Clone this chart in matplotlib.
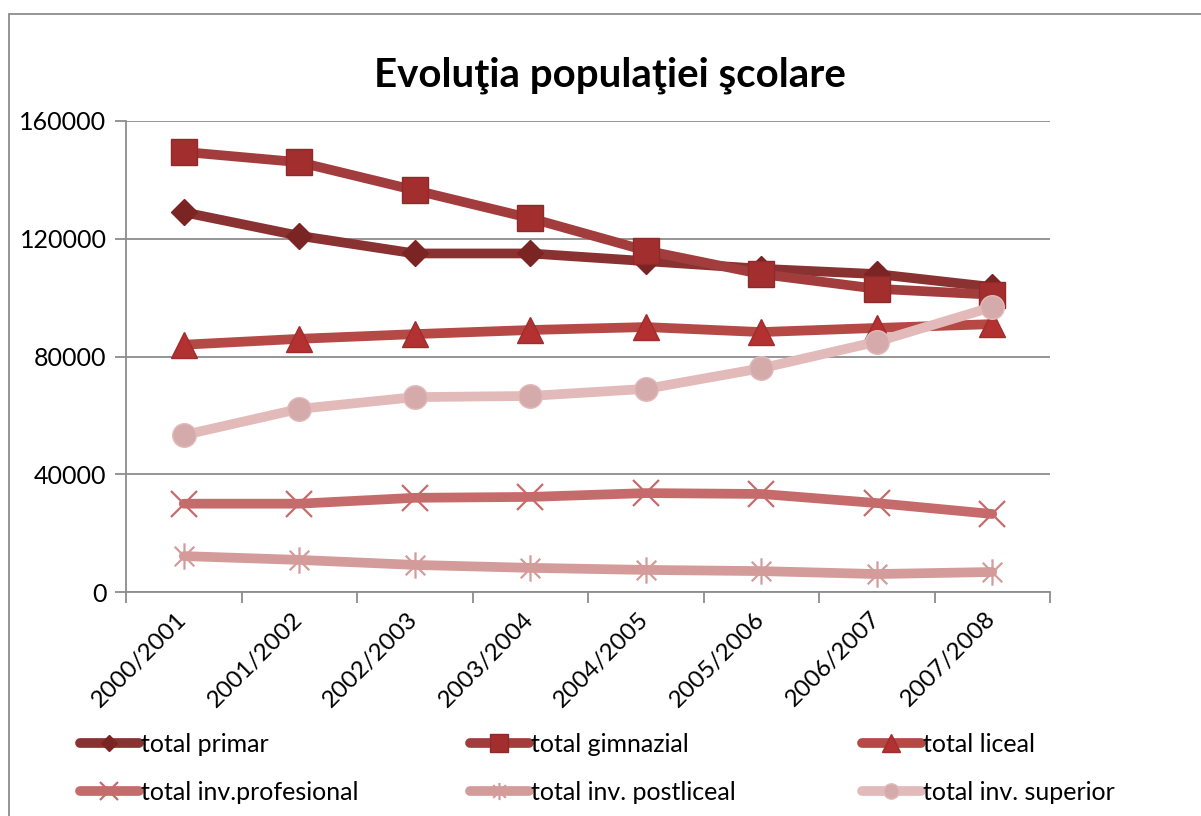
import matplotlib
matplotlib.use('Agg')
import matplotlib.pyplot as plt
from matplotlib.lines import Line2D
from matplotlib.path import Path
from matplotlib.patches import Rectangle

plt.rcParams['font.family'] = ['Lato', 'DejaVu Sans']

# date
years = ['2000/2001', '2001/2002', '2002/2003', '2003/2004',
         '2004/2005', '2005/2006', '2006/2007', '2007/2008']
primar = [129000, 121000, 115000, 115000, 112400, 109800, 108000, 103600]
gimnazial = [149500, 146000, 136500, 127000, 116000, 108000, 103000, 101000]
liceal = [84000, 86000, 87600, 89000, 90000, 88300, 89700, 91000]
profesional = [30000, 30000, 32000, 32300, 33600, 33300, 30200, 26500]
postliceal = [12200, 10900, 9200, 8200, 7500, 7100, 6100, 6800]
superior = [53300, 62200, 66200, 66600, 69000, 76000, 85000, 96800]

# asterisc ca in Excel: X + linie verticala
star = Path([(-1, -1), (1, 1), (-1, 1), (1, -1), (0, -1.35), (0, 1.35)],
            [Path.MOVETO, Path.LINETO, Path.MOVETO, Path.LINETO, Path.MOVETO, Path.LINETO])

series = [
    ('total primar', primar, '#8A3232', 'D', 13, '#7A2424', '#7F2222'),
    ('total gimnazial', gimnazial, '#A33D3D', 's', 19, '#A32E2E', '#8E2A2A'),
    ('total liceal', liceal, '#B64846', '^', 19, '#B33131', '#A02C2C'),
    ('total inv.profesional', profesional, '#C66B6B', 'x', 19, 'none', '#C66B6B'),
    ('total inv. postliceal', postliceal, '#D49B9B', star, 19, 'none', '#D49B9B'),
    ('total inv. superior', superior, '#E3BABA', 'o', 17, '#D4AAAA', '#E3BABA'),
]

fig = plt.figure(figsize=(12.01, 8.16), dpi=100)
ax = fig.add_axes([126 / 1201, 1 - 592 / 816, (1050 - 126) / 1201, (592 - 121) / 816])

x = list(range(len(years)))
handles = []
for i, (name, vals, col, mk, ms, fc, ec) in enumerate(series):
    mew = 1.6 if fc == 'none' else 1.0
    ax.plot(x, vals, color=col, lw=7, solid_capstyle='round', solid_joinstyle='round',
            marker=mk, markersize=ms, markerfacecolor=fc, markeredgecolor=ec,
            markeredgewidth=mew, zorder=3 + i)
    handles.append(Line2D([], [], color=col, lw=7, solid_capstyle='round',
                          marker=mk, markersize=ms * 0.65, markerfacecolor=fc,
                          markeredgecolor=ec, markeredgewidth=mew))

ax.set_xlim(-0.5, len(years) - 0.5)
ax.set_ylim(0, 160000)
ax.set_yticks([0, 40000, 80000, 120000, 160000])
ax.set_yticklabels(['0', '40000', '80000', '120000', '160000'])
ax.yaxis.grid(True, color='#8C8C8C', lw=1.3)
ax.set_axisbelow(True)

ax.set_xticks([i - 0.5 for i in range(len(years) + 1)])
ax.set_xticklabels([])
ax.set_xticks(x, minor=True)
ax.set_xticklabels(years, minor=True, rotation=45, ha='right', va='center',
                   rotation_mode='anchor', fontsize=17.5)
ax.tick_params(axis='x', which='minor', length=0, pad=17)
ax.tick_params(axis='x', which='major', length=8, width=1.3, color='#8C8C8C')
ax.tick_params(axis='y', length=8, width=1.3, color='#8C8C8C', labelsize=18, pad=6)

for s in ['top', 'right']:
    ax.spines[s].set_visible(False)
for s in ['left', 'bottom']:
    ax.spines[s].set_color('#8C8C8C')
    ax.spines[s].set_linewidth(1.3)

fig.text(610 / 1201, 1 - 86 / 816, 'Evoluţia populaţiei şcolare', ha='center',
         va='baseline', fontsize=29, fontweight='bold')

# legenda: cate o coloana
col_x = [80 / 1201, 470 / 1201, 862 / 1201]
for c in range(3):
    hs = [handles[c], handles[c + 3]]
    lbl = [series[c][0], series[c + 3][0]]
    fig.legend(hs, lbl, loc='upper left', bbox_to_anchor=(col_x[c], 1 - 733 / 816),
               frameon=False, fontsize=18, handlelength=2.35, handletextpad=0.08,
               labelspacing=1.0, borderpad=0, borderaxespad=0)

# chenar exterior
fig.patches.append(Rectangle((8.5 / 1201, -0.05), 1.2, 1 - 13.5 / 816 + 0.05,
                             transform=fig.transFigure, fill=False,
                             edgecolor='#8C8C8C', lw=1.3))

fig.savefig('out.png', dpi=100)
